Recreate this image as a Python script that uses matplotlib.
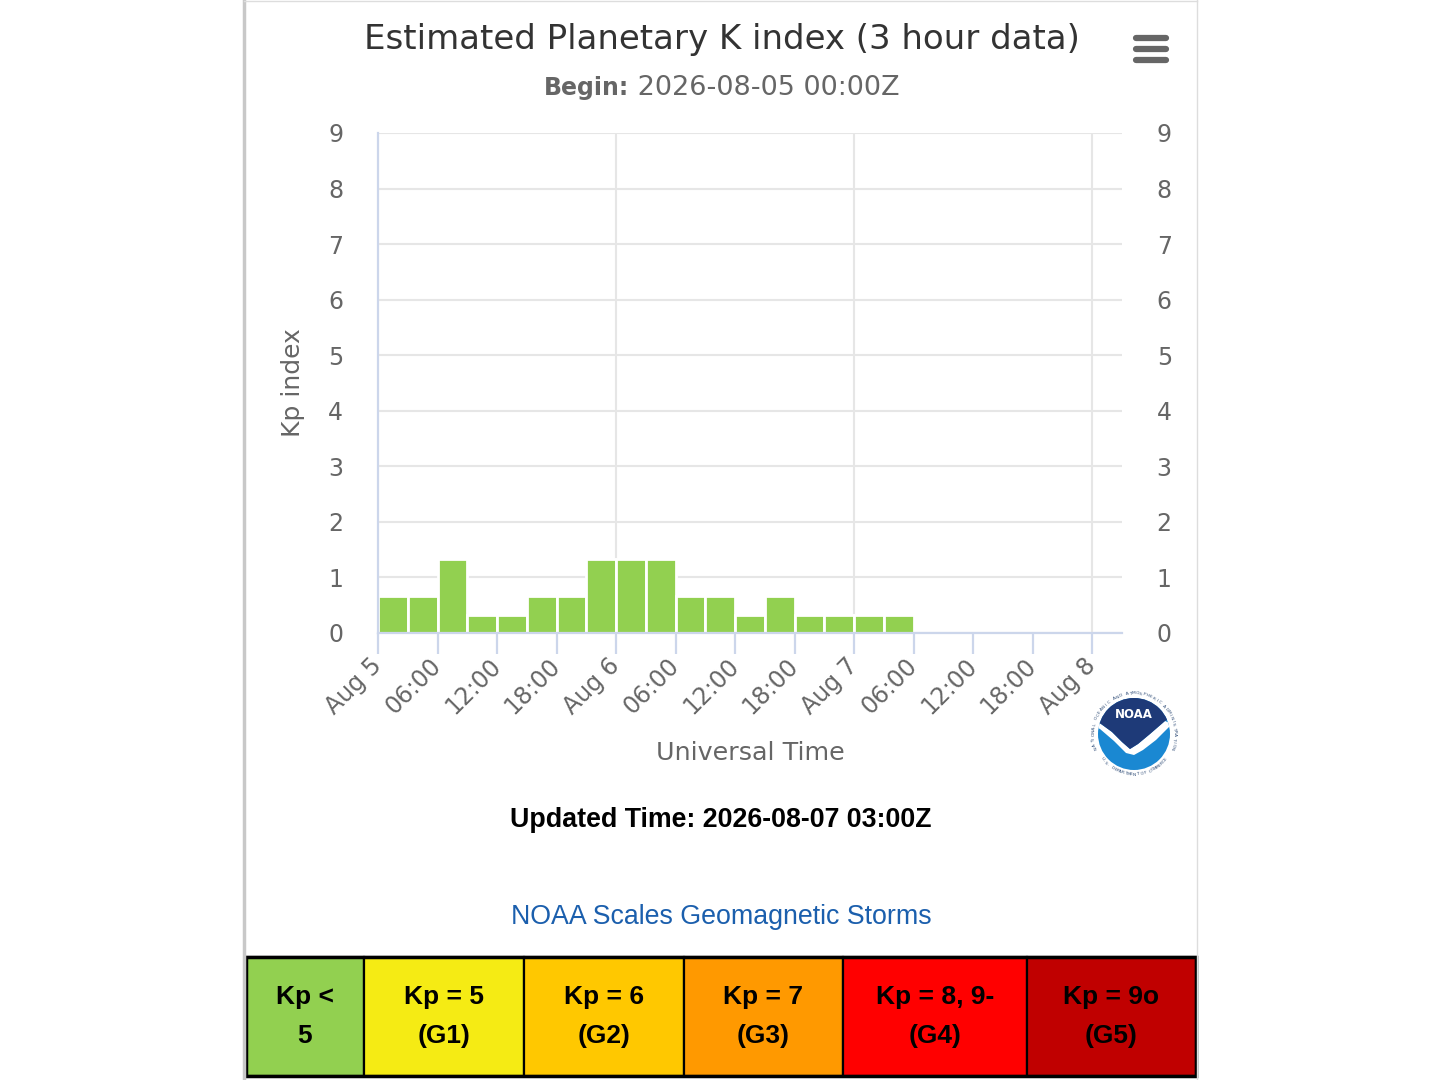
"""
Estimated Planetary K index (3 hour data) - NOAA SWPC style panel.
"""

import numpy as np
import matplotlib

matplotlib.use("Agg")
import matplotlib.pyplot as plt
from matplotlib.patches import Circle, Polygon, Rectangle
from matplotlib.lines import Line2D

# ---- data -------------------------------------------------------------
bar_start_hours = [0, 3, 6, 9, 12, 15, 18, 21, 24, 27, 30, 33, 36, 39, 42, 45, 48, 51]
kp_values = [0.67, 0.67, 1.33, 0.33, 0.33, 0.67, 0.67, 1.33, 1.33,
             1.33, 0.67, 0.67, 0.33, 0.67, 0.33, 0.33, 0.33, 0.33]
tick_hours = [0, 6, 12, 18, 24, 30, 36, 42, 48, 54, 60, 66, 72]
tick_labels = ["Aug 5", "06:00", "12:00", "18:00", "Aug 6", "06:00", "12:00",
               "18:00", "Aug 7", "06:00", "12:00", "18:00", "Aug 8"]
day_hours = [24, 48, 72]
kp_ticks = [0, 1, 2, 3, 4, 5, 6, 7, 8, 9]

scale_top = ["Kp <", "Kp = 5", "Kp = 6", "Kp = 7", "Kp = 8, 9-", "Kp = 9o"]
scale_bottom = ["5", "(G1)", "(G2)", "(G3)", "(G4)", "(G5)"]
scale_colors = ["#92d050", "#f5eb14", "#ffc800", "#ff9900", "#ff0000", "#c00000"]
scale_edges_px = [246, 364, 524, 684, 843, 1027, 1196]

# ---- style ------------------------------------------------------------
W, H = 1440, 1080
BAR = "#92d050"
AXIS = "#ccd6eb"
GRID = "#e6e6e6"
LABEL = "#666666"
TITLE = "#333333"
CHART_FONT = ["DejaVu Sans"]
HTML_FONT = ["Liberation Sans", "DejaVu Sans"]
NARROW_FONT = ["Liberation Sans Narrow", "Liberation Sans", "DejaVu Sans"]


def fx(x):
    return x / W


def fy(y):
    return 1 - y / H


def ring_text(ax, text, r, a_start, a_end, clockwise, size, color):
    """Lay a string along a circle (degrees, 0 = east)."""
    angles = np.linspace(a_start, a_end, len(text))
    for ch, a in zip(text, angles):
        rad = np.deg2rad(a)
        rot = a - 90 if clockwise else a + 90
        ax.text(r * np.cos(rad), r * np.sin(rad), ch, rotation=rot,
                ha="center", va="center", fontsize=size, color=color,
                family=CHART_FONT, rotation_mode="anchor")


fig = plt.figure(figsize=(W / 100, H / 100), dpi=100)
fig.patch.set_facecolor("white")

# panel border
fig.add_artist(Line2D([fx(244), fx(244)], [0, 1], color="#c8c8c8", lw=2.5))
fig.add_artist(Line2D([fx(1197), fx(1197)], [0, 1], color="#dddddd", lw=1))
fig.add_artist(Line2D([fx(244), fx(1197)], [fy(1), fy(1)], color="#dddddd", lw=1))

# ---- main chart -------------------------------------------------------
ax = fig.add_axes([fx(378), fy(633), fx(1122) - fx(378), fy(133) - fy(633)])
ax.bar(bar_start_hours, kp_values, width=3, align="edge", color=BAR,
       edgecolor="white", linewidth=2.0, zorder=3)
ax.set_xlim(0, 75)
ax.set_ylim(0, 9)

for s in ("top", "right"):
    ax.spines[s].set_visible(False)
for s in ("left", "bottom"):
    ax.spines[s].set_color(AXIS)
    ax.spines[s].set_linewidth(1.6)
    ax.spines[s].set_zorder(4)

ax.set_yticks(kp_ticks)
ax.set_yticklabels([str(v) for v in kp_ticks], fontsize=17, color=LABEL,
                   family=CHART_FONT)
ax.tick_params(axis="y", length=0, pad=25)
ax.grid(axis="y", color=GRID, lw=1.5, zorder=0)
for d in day_hours:
    ax.axvline(d, color=GRID, lw=1.5, zorder=0)

ax.set_xticks(tick_hours)
ax.set_xticklabels(tick_labels, rotation=45, ha="right", va="center",
                   rotation_mode="anchor", fontsize=17, color=LABEL,
                   family=CHART_FONT)
ax.tick_params(axis="x", length=15, width=1.6, color=AXIS, pad=6)

ax.set_ylabel("Kp index", fontsize=18, color=LABEL, family=CHART_FONT)
ax.set_xlabel("Universal Time", fontsize=18.3, color=LABEL, family=CHART_FONT)
ax.xaxis.set_label_coords(0.5, -(741 - 633) / 500)
ax.yaxis.set_label_coords(-(378 - 305) / 744, 0.5)

ax2 = ax.twinx()
ax2.set_ylim(0, 9)
ax2.set_yticks(kp_ticks)
ax2.set_yticklabels([str(v) for v in kp_ticks], fontsize=17, color=LABEL,
                    family=CHART_FONT)
ax2.tick_params(axis="y", length=0, pad=25)
for s in ax2.spines.values():
    s.set_visible(False)

# ---- titles -----------------------------------------------------------
fig.text(fx(722), fy(39), "Estimated Planetary K index (3 hour data)",
         ha="center", va="center", fontsize=24.5, color=TITLE, family=CHART_FONT)
t_begin = fig.text(fx(544), fy(88), "Begin:", ha="left", va="center",
                   fontsize=17, color=LABEL, weight="bold", family=CHART_FONT)
ax.annotate(" 2026-08-05 00:00Z", xy=(1, 0.5), xycoords=t_begin,
            ha="left", va="center", fontsize=19.5, color=LABEL,
            family=CHART_FONT, annotation_clip=False)

# hamburger menu
for yy in (38, 49, 60):
    fig.add_artist(Line2D([fx(1136), fx(1166)], [fy(yy), fy(yy)], color="#666666",
                          lw=4.5, solid_capstyle="round"))

# ---- NOAA logo --------------------------------------------------------
cx, cy = 1134, 734
lax = fig.add_axes([fx(cx - 48), fy(cy + 48), 96 / W, 96 / H])
lax.set_xlim(-48, 48)
lax.set_ylim(-48, 48)
lax.set_aspect("equal")
lax.axis("off")
lax.add_patch(Circle((0, 0), 46, facecolor="white", edgecolor="none"))
lax.add_patch(Circle((0, 0), 36, facecolor="#1a88d2", edgecolor="none"))
clip = Circle((0, 0), 36, transform=lax.transData)
gull = Polygon([(-40, 14), (-33, 10), (-22, 2), (-12, -8), (-4, -15), (4, -10),
                (16, 0), (31, 13), (38, 10), (22, -6), (9, -16), (0, -21),
                (-8, -19), (-20, -7), (-34, 5), (-40, 8)],
               closed=True, facecolor="white", edgecolor="none")
gull.set_clip_path(clip)
lax.add_patch(gull)
navy = Polygon([(-40, 14), (-33, 10), (-22, 2), (-12, -8), (-4, -15), (4, -10),
                (16, 0), (31, 13), (40, 18), (40, 40), (-40, 40)],
               closed=True, facecolor="#1e3a78", edgecolor="none")
navy.set_clip_path(Circle((0, 0), 36, transform=lax.transData))
lax.add_patch(navy)
lax.text(0, 19, "NOAA", ha="center", va="center", fontsize=8.5,
         color="white", weight="bold", family=CHART_FONT)
ring_text(lax, "NATIONAL OCEANIC AND ATMOSPHERIC ADMINISTRATION", 40.5,
          200, -20, True, 3.2, "#33507a")
ring_text(lax, "U.S. DEPARTMENT OF COMMERCE", 40.5, 218, 322, False, 3.2,
          "#33507a")

# ---- html text below chart -------------------------------------------
fig.text(fx(721), fy(820), "Updated Time: 2026-08-07 03:00Z", ha="center",
         va="center", fontsize=19.3, weight="bold", color="black", family=HTML_FONT)
fig.text(fx(721), fy(917), "NOAA Scales Geomagnetic Storms", ha="center",
         va="center", fontsize=19.3, color="#1b5fad", family=HTML_FONT)

# ---- scale table ------------------------------------------------------
y_top, y_bot = 957, 1076
for i, (top, bottom, col) in enumerate(zip(scale_top, scale_bottom, scale_colors)):
    x0, x1 = scale_edges_px[i], scale_edges_px[i + 1]
    fig.add_artist(Rectangle((fx(x0), fy(y_bot)), fx(x1) - fx(x0),
                             fy(y_top) - fy(y_bot), facecolor=col,
                             edgecolor="black", lw=1.6))
    xc = fx((x0 + x1) / 2)
    fig.text(xc, fy(997), top, ha="center", va="center", fontsize=19,
             weight="bold", color="black", family=NARROW_FONT)
    fig.text(xc, fy(1036), bottom, ha="center", va="center", fontsize=19,
             weight="bold", color="black", family=NARROW_FONT)
fig.add_artist(Rectangle((fx(246), fy(y_bot)), fx(1196) - fx(246),
                         fy(y_top) - fy(y_bot), facecolor="none",
                         edgecolor="black", lw=2.5))

fig.savefig("out.png", dpi=100)
